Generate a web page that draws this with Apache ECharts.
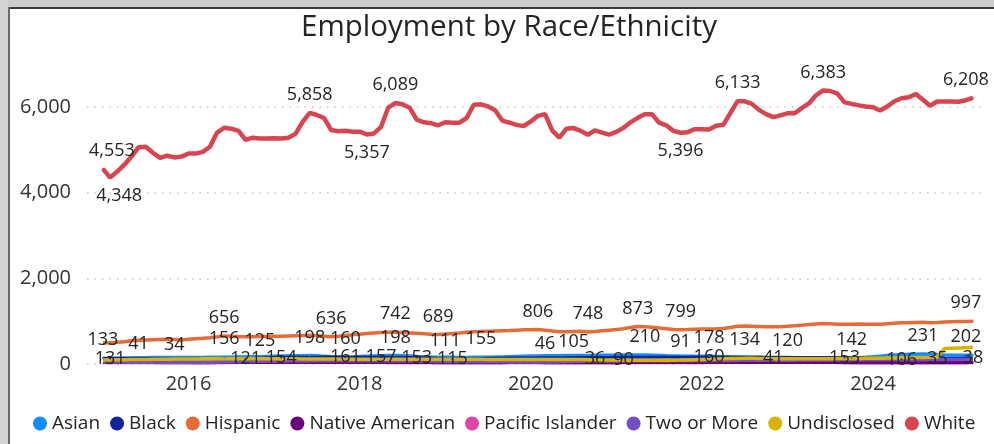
<!DOCTYPE html>
<html>
<head>
<meta charset="utf-8">
<title>Employment by Race/Ethnicity</title>
<script src="https://cdn.jsdelivr.net/npm/echarts@6/dist/echarts.min.js"></script>
<style>
  html, body { margin: 0; padding: 0; background: #fff; }
  #main { width: 994px; height: 444px; }
</style>
</head>
<body>
<div id="main"></div>
<script>
// monthly headcount, Jan 2015 .. Mar 2025 (index 0 = Jan 2015)
const firstYear = 2015;
const yearTicks = [2016, 2018, 2020, 2022, 2024];
const names = ['Asian', 'Black', 'Hispanic', 'Native American', 'Pacific Islander', 'Two or More', 'Undisclosed', 'White'];
const colors = ['#118DFF', '#12239E', '#E66C37', '#6B007B', '#E044A7', '#744EC2', '#D9B300', '#D64550'];

const asian = [
  133, 135, 138, 141, 143, 146, 147, 149, 150, 150, 149, 151,
  152, 153, 154, 155, 155, 156, 158, 161, 164, 168, 172, 177,
  181, 185, 189, 192, 195, 198, 190, 178, 168, 163, 160, 166,
  174, 181, 187, 192, 196, 198, 194, 186, 177, 169, 163, 158,
  156, 155, 154, 154, 155, 155, 157, 161, 166, 171, 176, 181,
  185, 188, 191, 193, 195, 196, 197, 199, 201, 203, 204, 206,
  207, 208, 209, 210, 210, 206, 200, 194, 189, 184, 181, 179,
  178, 178, 175, 171, 167, 164, 161, 158, 156, 154, 152, 150,
  149, 148, 147, 146, 145, 144, 143, 143, 142, 142, 148, 158,
  170, 183, 196, 208, 218, 225, 229, 231, 227, 219, 211, 206,
  204, 203, 202
];
const black = [
  130, 131, 130, 129, 128, 127, 126, 126, 125, 124, 124, 123,
  123, 122, 122, 121, 121, 121, 120, 121, 121, 127, 136, 145,
  150, 154, 156, 158, 159, 160, 160, 161, 161, 161, 161, 160,
  159, 158, 158, 157, 156, 155, 154, 154, 153, 147, 138, 128,
  119, 115, 117, 121, 125, 129, 132, 135, 137, 139, 140, 141,
  142, 143, 145, 146, 147, 148, 149, 150, 151, 152, 153, 154,
  155, 156, 156, 157, 157, 158, 158, 159, 159, 160, 160, 160,
  160, 160, 159, 158, 157, 156, 156, 155, 155, 154, 154, 153,
  153, 152, 152, 151, 151, 152, 152, 153, 153, 150, 146, 141,
  134, 125, 116, 109, 106, 109, 113, 117, 121, 124, 127, 129,
  131, 132, 133
];
const hispanic = [
  498, 490, 505, 520, 540, 552, 560, 566, 572, 576, 570, 562,
  580, 590, 600, 615, 635, 656, 648, 640, 635, 638, 642, 640,
  645, 650, 655, 660, 665, 672, 660, 648, 636, 650, 665, 680,
  695, 710, 725, 735, 740, 742, 735, 725, 715, 705, 695, 689,
  700, 712, 725, 740, 752, 760, 765, 770, 775, 780, 790, 798,
  802, 806, 790, 770, 755, 750, 758, 765, 748, 760, 775, 790,
  805, 825, 850, 873, 868, 860, 840, 820, 805, 799, 805, 812,
  815, 818, 822, 830, 850, 880, 885, 880, 875, 870, 868, 872,
  880, 890, 905, 920, 935, 945, 940, 930, 925, 930, 935, 928,
  925, 930, 940, 950, 960, 965, 970, 975, 965, 970, 978, 985,
  990, 993, 997
];
const nativeAmerican = [
  42, 42, 41, 41, 40, 40, 40, 39, 39, 38, 38, 38,
  38, 37, 37, 37, 38, 38, 39, 39, 40, 40, 41, 41,
  41, 42, 42, 42, 43, 43, 43, 42, 42, 42, 41, 41,
  41, 40, 40, 40, 39, 39, 39, 38, 38, 38, 38, 37,
  37, 37, 37, 36, 36, 36, 37, 37, 37, 38, 38, 38,
  38, 38, 37, 37, 37, 36, 36, 36, 36, 36, 37, 37,
  37, 38, 38, 38, 39, 39, 39, 40, 40, 40, 40, 41,
  41, 40, 41, 42, 41, 41, 40, 41, 42, 41, 41, 40,
  40, 40, 39, 39, 39, 38, 38, 38, 37, 37, 37, 36,
  36, 36, 36, 35, 35, 35, 35, 35, 35, 35, 36, 36,
  37, 37, 38
];
const pacificIslander = [
  30, 30, 31, 31, 31, 32, 32, 32, 31, 31, 31, 30,
  30, 30, 31, 31, 32, 32, 33, 33, 33, 34, 34, 34,
  34, 35, 35, 35, 36, 36, 36, 35, 35, 35, 34, 34,
  34, 33, 33, 33, 32, 32, 32, 32, 31, 31, 31, 31,
  31, 30, 30, 30, 30, 30, 29, 29, 29, 29, 29, 29,
  28, 28, 28, 28, 28, 29, 29, 29, 29, 29, 30, 30,
  30, 30, 30, 31, 31, 31, 31, 32, 32, 32, 32, 32,
  32, 33, 33, 33, 33, 34, 34, 34, 34, 34, 35, 35,
  35, 35, 35, 34, 34, 34, 33, 33, 33, 32, 32, 32,
  32, 31, 31, 31, 31, 30, 30, 30, 30, 31, 31, 31,
  32, 32, 33
];
const twoOrMore = [
  46, 45, 44, 43, 42, 41, 40, 38, 37, 35, 34, 35,
  36, 38, 40, 42, 45, 48, 51, 54, 57, 60, 62, 64,
  66, 67, 69, 70, 71, 72, 73, 73, 74, 74, 75, 75,
  76, 76, 75, 74, 73, 72, 70, 68, 66, 64, 62, 60,
  58, 57, 56, 55, 54, 53, 52, 51, 50, 49, 48, 48,
  47, 47, 46, 48, 51, 54, 57, 60, 63, 66, 69, 71,
  72, 70, 73, 76, 74, 77, 79, 77, 80, 81, 79, 82,
  83, 81, 84, 86, 83, 85, 88, 86, 87, 89, 88, 90,
  91, 89, 92, 94, 92, 93, 95, 94, 96, 97, 95, 98,
  99, 97, 100, 102, 100, 101, 103, 102, 104, 105, 103, 106,
  107, 106, 108
];
const undisclosed = [
  95, 97, 99, 101, 103, 105, 107, 109, 111, 113, 115, 117,
  118, 119, 120, 121, 122, 123, 124, 124, 125, 125, 125, 124,
  123, 122, 121, 120, 119, 118, 117, 116, 115, 114, 114, 113,
  113, 112, 112, 113, 113, 113, 112, 112, 112, 111, 111, 111,
  111, 110, 110, 109, 108, 108, 107, 107, 106, 106, 105, 105,
  105, 105, 106, 105, 105, 106, 105, 103, 100, 97, 94, 92,
  91, 90, 90, 89, 90, 90, 90, 91, 90, 91, 95, 100,
  105, 110, 116, 121, 126, 130, 134, 132, 129, 126, 123, 121,
  120, 120, 121, 122, 123, 124, 125, 126, 127, 128, 130, 132,
  134, 136, 139, 142, 145, 148, 150, 152, 155, 160, 360, 368,
  375, 382, 388
];
const white = [
  4553, 4348, 4490, 4650, 4840, 5060, 5070, 4930, 4810, 4860, 4820, 4840,
  4910, 4910, 4950, 5070, 5400, 5510, 5490, 5440, 5230, 5280, 5260, 5260,
  5270, 5260, 5280, 5370, 5650, 5858, 5810, 5740, 5460, 5430, 5440, 5420,
  5420, 5357, 5380, 5535, 5980, 6089, 6060, 5980, 5700, 5640, 5620, 5570,
  5640, 5630, 5630, 5740, 6050, 6060, 6010, 5920, 5680, 5630, 5580, 5550,
  5660, 5790, 5830, 5450, 5280, 5490, 5505, 5440, 5350, 5450, 5400, 5350,
  5420, 5510, 5640, 5745, 5830, 5830, 5630, 5570, 5440, 5396, 5410, 5480,
  5480, 5470, 5560, 5580, 5860, 6133, 6130, 6070, 5930, 5830, 5760, 5800,
  5850, 5850, 5970, 6080, 6270, 6383, 6370, 6310, 6105, 6070, 6035, 6010,
  5990, 5915, 6010, 6130, 6200, 6225, 6300, 6165, 6025, 6125, 6125, 6125,
  6120, 6155, 6208
];

// which months carry a data label: above the point, below it, or centred on it
const labelsAbove = {
  'Asian': [0, 17, 29, 34, 41, 53, 76, 85, 105, 115, 122],
  'Hispanic': [17, 32, 41, 47, 61, 68, 75, 81, 122],
  'Two or More': [5, 10, 62],
  'Undisclosed': [22, 48, 66, 81, 90, 96],
  'White': [0, 29, 41, 89, 101, 122]
};
const labelsBelow = {
  'White': [1, 37, 81]
};
const labelsOn = {
  'Black': [1, 20, 25, 34, 39, 44, 49, 85, 104, 112],
  'Undisclosed': [73],
  'Native American': [69, 94, 117, 122]
};

const allValues = [asian, black, hispanic, nativeAmerican, pacificIslander, twoOrMore, undisclosed, white];
const widths = [3.5, 3, 3.5, 3.5, 3, 3.5, 3.5, 4.5];

const font = 'Open Sans';
const fmt = (v) => v.toLocaleString('en-US');

function buildSeries(name, idx) {
  const above = labelsAbove[name] || [];
  const below = labelsBelow[name] || [];
  const on = labelsOn[name] || [];
  const last = allValues[idx].length - 1;
  const data = allValues[idx].map(function (v, i) {
    const item = { value: [i, v] };
    let pos = null;
    if (above.indexOf(i) >= 0) pos = 'top';
    else if (below.indexOf(i) >= 0) pos = 'bottom';
    else if (on.indexOf(i) >= 0) pos = 'inside';
    if (pos) {
      item.symbol = 'circle';
      item.symbolSize = 2;
      item.label = { show: true, position: pos, distance: 8 };
      if (pos === 'inside' && name === 'Native American') item.label.offset = [0, -4];
      if (name === 'White' && i <= 1) item.label.offset = [9, 0];
      if (i === last && pos === 'top') item.label.offset = [-7, 0];
    }
    return item;
  });
  return {
    name: name,
    type: 'line',
    // pacific islander sits underneath the native american line
    z: name === 'Pacific Islander' ? 1 : 2,
    data: data,
    symbol: 'none',
    showSymbol: true,
    color: colors[idx],
    lineStyle: { width: widths[idx], color: colors[idx] },
    itemStyle: { color: colors[idx] },
    label: {
      show: false,
      formatter: (p) => fmt(p.value[1]),
      fontFamily: font,
      fontSize: 18,
      color: '#252423'
    },
    emphasis: { disabled: true },
    animation: false
  };
}

const chart = echarts.init(document.getElementById('main'));
chart.setOption({
  backgroundColor: '#ffffff',
  animation: false,
  title: {
    text: 'Employment by Race/Ethnicity',
    left: 509,
    textAlign: 'center',
    top: 13,
    padding: 0,
    textStyle: { fontFamily: font, fontSize: 29.5, fontWeight: 'normal', color: '#252423' }
  },
  legend: {
    data: names,
    icon: 'circle',
    itemWidth: 14,
    itemHeight: 14,
    itemGap: 10,
    left: 28,
    top: 409,
    textStyle: { fontFamily: font, fontSize: 19, color: '#252423' }
  },
  grid: { left: 87, right: 9, top: 64, bottom: 80 },
  xAxis: {
    type: 'value',
    min: -2.24,
    max: 123.7,
    splitLine: { show: false },
    axisLine: { show: false },
    axisTick: { show: false },
    axisLabel: {
      customValues: yearTicks.map((y) => (y - firstYear) * 12),
      formatter: (v) => String(firstYear + Math.round(v / 12)),
      margin: 10,
      fontFamily: font,
      fontSize: 20,
      color: '#333333'
    }
  },
  yAxis: {
    type: 'value',
    min: 0,
    max: 7000,
    interval: 2000,
    axisLine: { show: false },
    axisTick: { show: false },
    splitLine: {
      show: true,
      showMaxLine: false,
      lineStyle: { type: [1.5, 6], color: '#c8c6c4', width: 1.5 }
    },
    axisLabel: {
      showMaxLabel: false,
      formatter: (v) => (v > 6000 ? '' : fmt(v)),
      margin: 16,
      fontFamily: font,
      fontSize: 20,
      color: '#333333'
    }
  },
  graphic: [
    { type: 'rect', left: 0, top: 0, shape: { width: 994, height: 7 }, style: { fill: '#cdcdcd' }, silent: true },
    { type: 'rect', left: 0, top: 7, shape: { width: 994, height: 2 }, style: { fill: '#3c3c3c' }, silent: true },
    { type: 'rect', left: 0, top: 0, shape: { width: 8, height: 444 }, style: { fill: '#d4d4d4' }, silent: true },
    { type: 'rect', left: 8, top: 7, shape: { width: 2, height: 437 }, style: { fill: '#6a6a6a' }, silent: true }
  ],
  series: names.map(buildSeries)
});
</script>
</body>
</html>
